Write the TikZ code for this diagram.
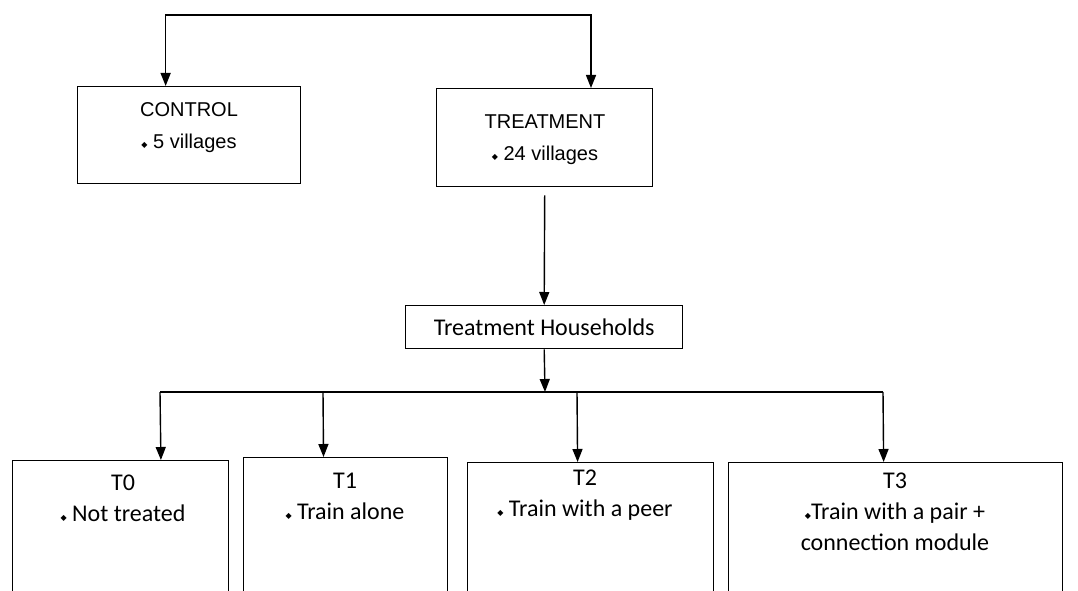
\documentclass[tikz,border=0pt]{standalone}
\usepackage{fontspec}
\setmainfont{Carlito}
\newfontfamily\arialf{Liberation Sans}
\newfontfamily\symf{DejaVu Sans}
\usetikzlibrary{calc, arrows.meta}
\newcommand{\bul}{{\symf\fontsize{8}{8}\selectfont\raisebox{0.25ex}{◆}}}

\begin{document}
\begin{tikzpicture}[x=1pt, y=-1pt, line width=1.4pt,
  box/.style={draw, inner sep=0pt},
  arr/.style={-{Triangle[width=10pt, length=13pt]}},
  toptext/.style={font=\arialf\fontsize{20}{32}\selectfont, align=center, anchor=north},
  lowtext/.style={font=\fontsize{24}{31}\selectfont, align=center, anchor=north}]
\clip (0, 0) rectangle (1078, 591);
% villages
\node[box, minimum width=223pt, minimum height=97pt, anchor=north west] (control) at (77, 86) {};
\node[box, minimum width=216pt, minimum height=98pt, anchor=north west] (treat) at (436, 88) {};
\node[toptext] (controltxt) at (189, 99) {CONTROL\\\bul\ 5 villages};
\node[toptext] (treattxt) at (545, 111) {TREATMENT\\\bul\ 24 villages};
\coordinate (split) at (377, 15);
\draw[arr] (split) -| ($(control.north west)!0.395!(control.north east)$);
\draw[arr] (split) -| ($(treat.north west)!0.713!(treat.north east)$);
% households
\node[box, minimum width=277pt, minimum height=43pt, anchor=north west, font=\fontsize{24}{28}\selectfont] (house) at (405, 305) {Treatment Households};
\draw[arr] ($(treat.south)+(0, 8)$) -- (house.north);
\coordinate (branch) at (545, 392);
\draw[arr] (house.south) -- (branch);
% groups
\node[box, minimum width=216pt, minimum height=160pt, anchor=north west] (t0) at (12, 460) {};
\node[box, minimum width=204pt, minimum height=160pt, anchor=north west] (t1) at (243, 457) {};
\node[box, minimum width=246pt, minimum height=160pt, anchor=north west] (t2) at (467, 462) {};
\node[box, minimum width=334pt, minimum height=160pt, anchor=north west] (t3) at (728, 462) {};
\node[lowtext] (t0txt) at (123, 471) {T0\\\bul\ Not treated};
\node[lowtext] (t1txt) at (345, 469) {T1\\\bul\ Train alone};
\node[lowtext] (t2txt) at (585, 466) {T2\\\bul\ Train with a peer};
\node[lowtext] (t3txt) at (895, 469) {T3\\\bul Train with a pair +\\connection module};
\coordinate (b0) at (160, 392);
\coordinate (b1) at (323, 392);
\coordinate (b2) at (577, 392);
\coordinate (b3) at (883, 392);
\draw (b0) -- (b3);
\draw[arr] (b0) -- ($(t0.north west)!0.685!(t0.north east)$);
\draw[arr] (b1) -- ($(t1.north west)!0.392!(t1.north east)$);
\draw[arr] (b2) -- ($(t2.north west)!0.447!(t2.north east)$);
\draw[arr] (b3) -- ($(t3.north west)!0.464!(t3.north east)$);
\end{tikzpicture}
\end{document}
